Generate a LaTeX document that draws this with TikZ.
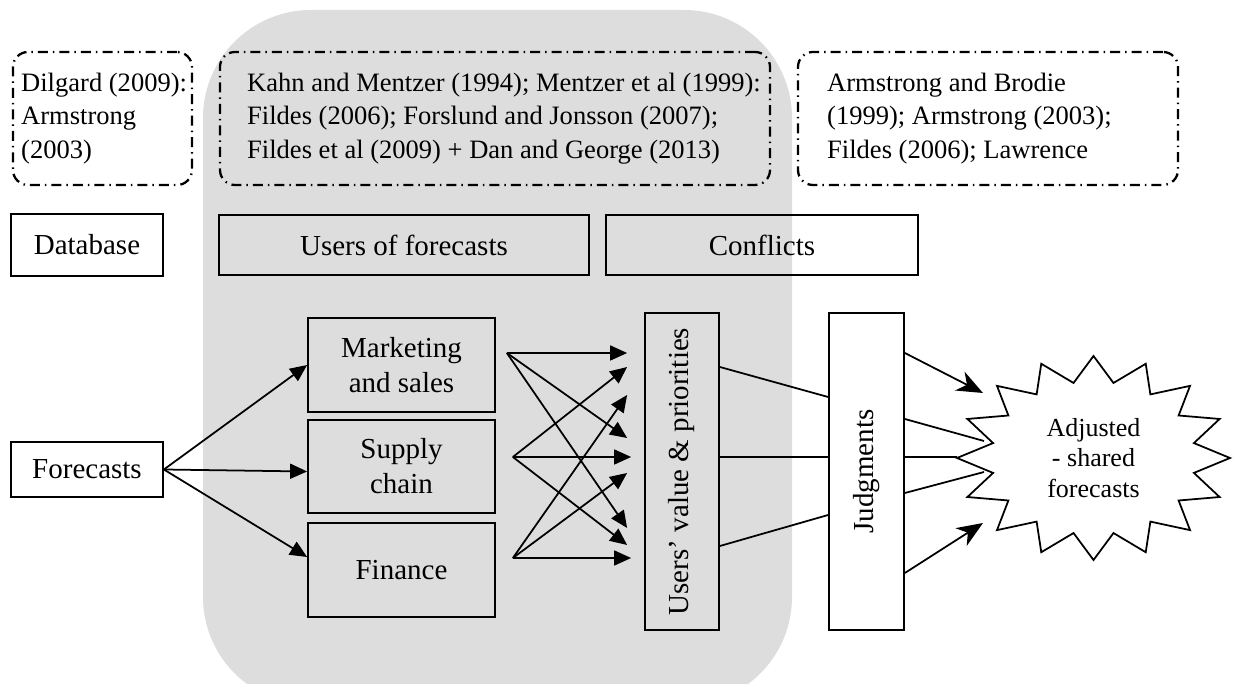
\documentclass[tikz,border=0pt]{standalone}
\usepackage{fontspec}
\setmainfont{Liberation Serif}
\usetikzlibrary{positioning,arrows.meta}

\definecolor{panelgray}{RGB}{221,221,221}
\newcommand{\boxfont}{\fontsize{16.5}{19.9}\selectfont}
\newcommand{\reffont}{\fontsize{15.1}{19.2}\selectfont}
\newcommand{\starfont}{\fontsize{14.8}{17.4}\selectfont}

\tikzset{
  blk/.style={draw, line width=1pt, font=\boxfont, align=center, inner sep=0pt},
  refbox/.style={draw, line width=1.3pt, rounded corners=0.3cm, minimum height=2.66cm,
    dash pattern=on 0.2cm off 0.1cm on 0.03cm off 0.1cm},
  reftext/.style={font=\reffont, align=left, inner sep=0pt, anchor=west},
  ln/.style={line width=1pt},
  arr/.style={line width=1pt, -{Triangle[length=0.34cm,width=0.3cm]}},
  bigarr/.style={line width=1pt, -{Stealth[length=0.52cm,width=0.42cm,inset=0.16cm]}}
}

\begin{document}
\begin{tikzpicture}
\useasboundingbox (0,0) rectangle (24.76,13.68);

\begin{scope}
\clip (0,0) rectangle (24.76,13.68);
\fill[panelgray, rounded corners=2.16cm] (4.06,-0.42) rectangle (15.84,13.48); %users panel
\end{scope}

%references
\node[refbox, minimum width=3.58cm] (dilbox) at (2.05,11.31) {};
\node[reftext] (diltext) at ([xshift=0.18cm]dilbox.west) {Dilgard (2009):\\Armstrong\\(2003)};
\node[refbox, minimum width=11cm] (kahnbox) at (9.9,11.31) {};
\node[reftext] (kahntext) at ([xshift=0.56cm]kahnbox.west) {Kahn and Mentzer (1994); Mentzer et al (1999):\\Fildes (2006); Forslund and Jonsson (2007);\\Fildes et al (2009) + Dan and George (2013)};
\node[refbox, minimum width=7.6cm] (armbox) at (19.76,11.31) {};
\node[reftext] (armtext) at ([xshift=0.6cm]armbox.west) {Armstrong and Brodie\\(1999); Armstrong (2003);\\Fildes (2006); Lawrence};

%headers
\node[blk, minimum width=3.04cm, minimum height=1.24cm] (db) at (1.74,8.78) {Database};
\node[blk, minimum width=7.4cm, minimum height=1.2cm] (users) at (8.08,8.78) {Users of forecasts};
\node[blk, minimum width=6.24cm, minimum height=1.2cm] (conf) at (15.24,8.78) {Conflicts};

%flow
\node[blk, minimum width=3.04cm, minimum height=1.1cm] (fc) at (1.74,4.29) {Forecasts};
\node[blk, minimum width=3.74cm, minimum height=1.88cm] (mkt) at (8.03,6.38) {Marketing\\and sales};
\node[blk, minimum width=3.74cm, minimum height=1.86cm] (sup) at (8.03,4.35) {Supply\\chain};
\node[blk, minimum width=3.74cm, minimum height=1.88cm] (fin) at (8.03,2.28) {Finance};
\node[blk, minimum width=1.48cm, minimum height=6.34cm] (uv) at (13.64,4.25) {\rotatebox{90}{Users’ value \& priorities}};
\node[blk, minimum width=1.5cm, minimum height=6.34cm] (jud) at (17.33,4.25) {\rotatebox{90}{Judgments}};

%star
\coordinate (sc) at (21.87,4.52);
\draw[ln, fill=white, shift={(sc)}] (2.73,0)
  \foreach \k [evaluate=\k as \r using {1-0.25*mod(\k,2)}] in {1,...,31} {-- ({2.73*\r*cos(\k*11.25)},{2.04*\r*sin(\k*11.25)})} -- cycle;
\node[font=\starfont, align=center, inner sep=0pt] (adj) at (sc) {Adjusted\\- shared\\forecasts};

\draw[arr] (fc.east) -- (mkt.west);
\draw[arr] (fc.east) -- ([yshift=-0.1cm]sup.west);
\draw[arr] (fc.east) -- ([yshift=0.26cm]fin.west);

\coordinate (ms) at ([shift={(0.22,0.24)}]mkt.east);
\coordinate (ss) at ([shift={(0.34,0.19)}]sup.east);
\coordinate (fs) at ([shift={(0.34,0.24)}]fin.east);
\draw[arr] (ms) -- ([shift={(-0.34,2.37)}]uv.west);
\draw[arr] (ms) -- ([shift={(-0.34,0.67)}]uv.west);
\draw[arr] (ms) -- ([shift={(-0.34,-1.13)}]uv.west);
\draw[arr] (ss) -- ([shift={(-0.34,2.09)}]uv.west);
\draw[arr] (ss) -- ([shift={(-0.26,0.29)}]uv.west);
\draw[arr] (ss) -- ([shift={(-0.34,-1.47)}]uv.west);
\draw[arr] (fs) -- ([shift={(-0.34,1.53)}]uv.west);
\draw[arr] (fs) -- ([shift={(-0.34,-0.03)}]uv.west);
\draw[arr] (fs) -- ([shift={(-0.26,-1.73)}]uv.west);

\draw[ln] ([yshift=2.09cm]uv.east) -- ([yshift=1.49cm]jud.west);
\draw[ln] ([yshift=0.29cm]uv.east) -- ([yshift=0.29cm]jud.west);
\draw[ln] ([yshift=-1.49cm]uv.east) -- ([yshift=-0.87cm]jud.west);

\draw[bigarr] ([yshift=2.37cm]jud.east) -- ([shift={(-2.21,1.30)}]adj.center);
\draw[ln] ([yshift=1.05cm]jud.east) -- ([shift={(-2.19,0.34)}]adj.center);
\draw[ln] ([yshift=0.29cm]jud.east) -- ([shift={(-2.73,0.02)}]adj.center);
\draw[ln] ([yshift=-0.43cm]jud.east) -- ([shift={(-2.19,-0.28)}]adj.center);
\draw[bigarr] ([yshift=-2.03cm]jud.east) -- ([shift={(-2.21,-1.30)}]adj.center);

\end{tikzpicture}
\end{document}
